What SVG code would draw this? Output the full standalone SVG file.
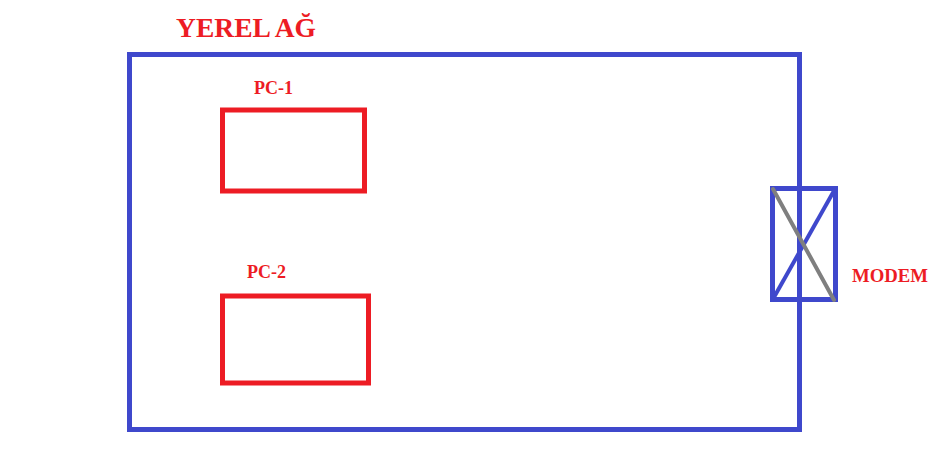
<svg xmlns="http://www.w3.org/2000/svg" width="948" height="465" viewBox="0 0 948 465">
<style>
.lbl{font-family:"Liberation Serif","Times New Roman",serif;font-weight:bold;fill:#ed1c24}
.blue{fill:none;stroke:#3f48cc;stroke-width:5}
.red{fill:none;stroke:#ed1c24;stroke-width:5}
</style>
<rect width="948" height="465" fill="#fff"/>
<g id="yerel-ag">
<rect class="blue" x="129.5" y="54.5" width="670" height="375"/>
<text class="lbl" x="176" y="37" font-size="27" textLength="140" lengthAdjust="spacingAndGlyphs">YEREL AĞ</text>
</g>
<g id="pc-1">
<rect class="red" x="222.5" y="110" width="142" height="81"/>
<text class="lbl" x="254" y="94" font-size="18">PC-1</text>
</g>
<g id="pc-2">
<rect class="red" x="222.5" y="296" width="146" height="87"/>
<text class="lbl" x="247" y="278" font-size="18">PC-2</text>
</g>
<g id="modem">
<rect class="blue" x="772.5" y="188.5" width="63" height="111"/>
<line x1="773" y1="299" x2="835" y2="189" stroke="#3f48cc" stroke-width="4"/>
<text class="lbl" x="852" y="282" font-size="19" textLength="76" lengthAdjust="spacingAndGlyphs">MODEM</text>
</g>
<g id="connectors">
<line x1="773" y1="189" x2="834" y2="300" stroke="#7f7f7f" stroke-width="4" stroke-linecap="round"/>
</g>
</svg>
